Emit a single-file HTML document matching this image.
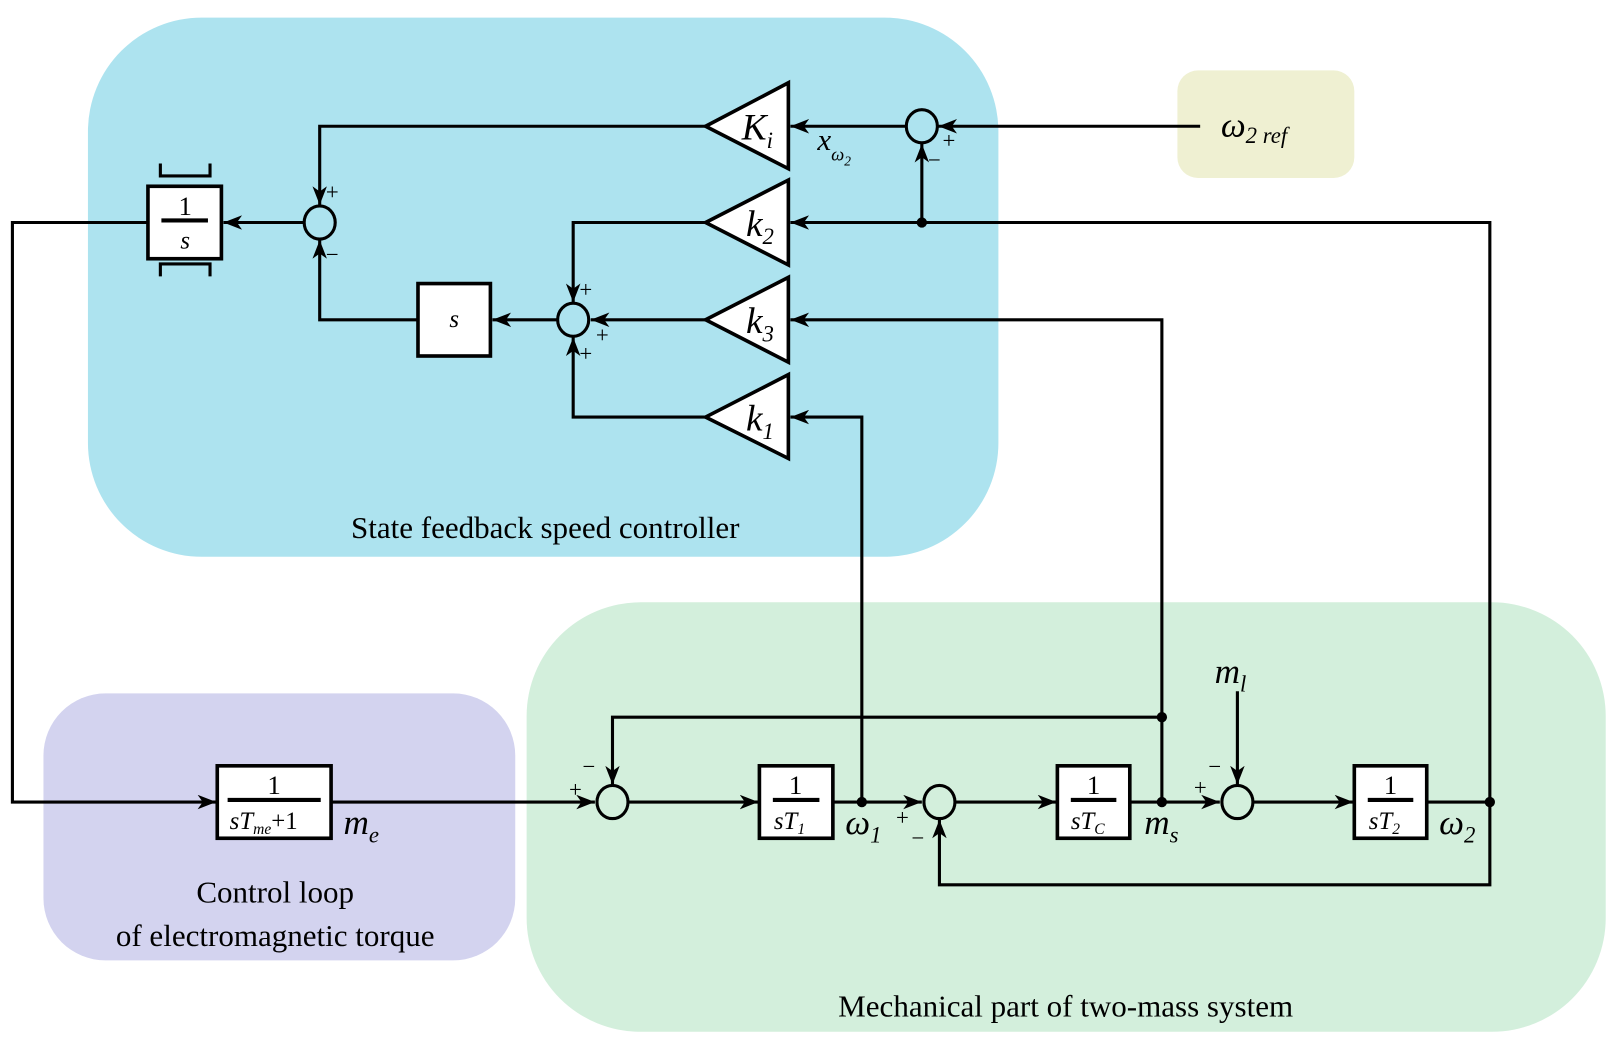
<!DOCTYPE html>
<html><head><meta charset="utf-8"><style>
html,body{margin:0;padding:0;background:#fff}
svg{display:block}
text{font-family:"Liberation Serif","Times New Roman","DejaVu Serif",serif;fill:#000}
.i{font-style:italic}
</style></head><body>
<svg width="1614" height="1038" viewBox="0 0 1560 1003" preserveAspectRatio="none" xmlns="http://www.w3.org/2000/svg">
<defs>
<marker id="a" markerUnits="userSpaceOnUse" markerWidth="20" markerHeight="14" refX="18" refY="7" orient="auto">
<path d="M0,0 L18,7 L0,14 L5,7 Z" fill="#000"/>
</marker>
</defs>
<rect x="85" y="17" width="880" height="521" rx="110" fill="#ade3ef"/>
<rect x="1138" y="68" width="171" height="104" rx="20" fill="#eff0d2"/>
<rect x="42" y="670" width="456" height="258" rx="60" fill="#d3d3ef"/>
<rect x="509" y="582" width="1043" height="415" rx="110" fill="#d3efdc"/>

<g stroke="#000" stroke-width="3" fill="none">
<line x1="1160" y1="122" x2="907" y2="122" marker-end="url(#a)"/>
<line x1="875" y1="122" x2="764" y2="122" marker-end="url(#a)"/>
<polyline points="682,122 309,122 309,198" marker-end="url(#a)"/>
<polyline points="404,309 309,309 309,232" marker-end="url(#a)"/>
<line x1="293" y1="215" x2="216" y2="215" marker-end="url(#a)"/>
<polyline points="143,215 12,215 12,775 209,775" marker-end="url(#a)"/>
<polyline points="1440,775 1440,215 764,215" marker-end="url(#a)"/>
<line x1="891" y1="215" x2="891" y2="139" marker-end="url(#a)"/>
<polyline points="682,215 554,215 554,292" marker-end="url(#a)"/>
<polyline points="1123,775 1123,309 764,309" marker-end="url(#a)"/>
<line x1="682" y1="309" x2="571" y2="309" marker-end="url(#a)"/>
<polyline points="833,775 833,403 764,403" marker-end="url(#a)"/>
<polyline points="682,403 554,403 554,326" marker-end="url(#a)"/>
<line x1="538" y1="309" x2="476" y2="309" marker-end="url(#a)"/>
<line x1="320" y1="775" x2="575" y2="775" marker-end="url(#a)"/>
<line x1="608" y1="775" x2="733" y2="775" marker-end="url(#a)"/>
<line x1="805" y1="775" x2="891" y2="775" marker-end="url(#a)"/>
<line x1="924" y1="775" x2="1021" y2="775" marker-end="url(#a)"/>
<line x1="1092" y1="775" x2="1179" y2="775" marker-end="url(#a)"/>
<polyline points="1123,693 592,693 592,758" marker-end="url(#a)"/>
<line x1="1196" y1="668" x2="1196" y2="758" marker-end="url(#a)"/>
<line x1="1212" y1="775" x2="1308" y2="775" marker-end="url(#a)"/>
<line x1="1379" y1="775" x2="1440" y2="775"/>
<polyline points="1440,775 1440,855 908,855 908,792" marker-end="url(#a)"/>
</g>
<g fill="#000">
<circle cx="891" cy="215" r="5"/><circle cx="833" cy="775" r="5"/><circle cx="1123" cy="775" r="5"/>
<circle cx="1123" cy="693" r="5"/><circle cx="1440" cy="775" r="5"/>
</g>
<g stroke="#000" stroke-width="3" fill="none">
<ellipse cx="891" cy="122" rx="15" ry="16"/>
<ellipse cx="309" cy="215" rx="15" ry="16"/>
<ellipse cx="554" cy="309" rx="15" ry="16"/>
<ellipse cx="592" cy="775" rx="15" ry="16"/>
<ellipse cx="908" cy="775" rx="15" ry="16"/>
<ellipse cx="1196" cy="775" rx="15" ry="16"/>
</g>
<g stroke="#000" stroke-width="3.5" fill="#fff">
<polygon points="682,122 762,80 762,163"/>
<polygon points="682,215 762,174 762,256"/>
<polygon points="682,309 762,268 762,350"/>
<polygon points="682,403 762,362 762,443"/>
</g>
<g stroke="#000" stroke-width="3.5" fill="#fff">
<rect x="143" y="180" width="71" height="70"/>
<rect x="404" y="274" width="70" height="70"/>
<rect x="210" y="740" width="110" height="70"/>
<rect x="734" y="740" width="71" height="70"/>
<rect x="1022" y="740" width="70" height="70"/>
<rect x="1309" y="740" width="70" height="70"/>
</g>
<g stroke="#000" stroke-width="3" fill="none">
<polyline points="155,158 155,170 203,170 203,158"/>
<polyline points="155,267 155,255 203,255 203,267"/>
<line x1="156" y1="213" x2="201" y2="213" stroke-width="4"/>
<line x1="220" y1="773" x2="310" y2="773" stroke-width="4"/>
<line x1="747" y1="773" x2="792" y2="773" stroke-width="4"/>
<line x1="1035" y1="773" x2="1079" y2="773" stroke-width="4"/>
<line x1="1322" y1="773" x2="1366" y2="773" stroke-width="4"/>
</g>
<text x="179" y="208" font-size="26" text-anchor="middle">1</text>
<text x="179" y="240" font-size="24" text-anchor="middle" class="i">s</text>
<text x="439" y="316" font-size="24" text-anchor="middle" class="i">s</text>
<text x="265" y="767" font-size="26" text-anchor="middle">1</text>
<text x="222" y="801" font-size="24" class="i">sT<tspan font-size="15" dy="5">me</tspan><tspan font-size="24" dy="-5" font-style="normal">+1</tspan></text>
<text x="769" y="767" font-size="26" text-anchor="middle">1</text>
<text x="748" y="801" font-size="24" class="i">sT<tspan font-size="15" dy="5">1</tspan></text>
<text x="1057" y="767" font-size="26" text-anchor="middle">1</text>
<text x="1035" y="801" font-size="24" class="i">sT<tspan font-size="15" dy="5">C</tspan></text>
<text x="1344" y="767" font-size="26" text-anchor="middle">1</text>
<text x="1323" y="801" font-size="24" class="i">sT<tspan font-size="15" dy="5">2</tspan></text>
<text x="717" y="135" font-size="36" class="i">K<tspan font-size="22" dy="8">i</tspan></text>
<text x="721" y="228" font-size="36" class="i">k<tspan font-size="22" dy="8">2</tspan></text>
<text x="721" y="322" font-size="36" class="i">k<tspan font-size="22" dy="8">3</tspan></text>
<text x="721" y="416" font-size="36" class="i">k<tspan font-size="22" dy="8">1</tspan></text>
<text x="790" y="145" font-size="30" class="i">x<tspan font-size="18" dy="10">ω</tspan><tspan font-size="13" dy="5">2</tspan></text>
<text x="1180" y="132" font-size="34" class="i">ω<tspan font-size="22" dy="6">2 ref</tspan></text>
<text x="332" y="806" font-size="34" class="i">m<tspan font-size="22" dy="8">e</tspan></text>
<text x="817" y="806" font-size="34" class="i">ω<tspan font-size="22" dy="8">1</tspan></text>
<text x="1106" y="806" font-size="34" class="i">m<tspan font-size="22" dy="8">s</tspan></text>
<text x="1391" y="806" font-size="34" class="i">ω<tspan font-size="22" dy="8">2</tspan></text>
<text x="1174" y="660" font-size="34" class="i">m<tspan font-size="22" dy="8">l</tspan></text>
<g font-size="22">
<text x="911" y="143">+</text><text x="897" y="162">−</text>
<text x="315" y="193">+</text><text x="315" y="253">−</text>
<text x="560" y="287">+</text><text x="576" y="331">+</text><text x="560" y="349">+</text>
<text x="563" y="748">−</text><text x="550" y="770">+</text>
<text x="866" y="797">+</text><text x="881" y="817">−</text>
<text x="1168" y="748">−</text><text x="1154" y="768">+</text>
</g>
<text x="527" y="520" font-size="30" text-anchor="middle">State feedback speed controller</text>
<text x="266" y="872" font-size="30" text-anchor="middle">Control loop</text>
<text x="266" y="914" font-size="30" text-anchor="middle">of electromagnetic torque</text>
<text x="1030" y="982" font-size="30" text-anchor="middle">Mechanical part of two-mass system</text>
</svg>
</body></html>
